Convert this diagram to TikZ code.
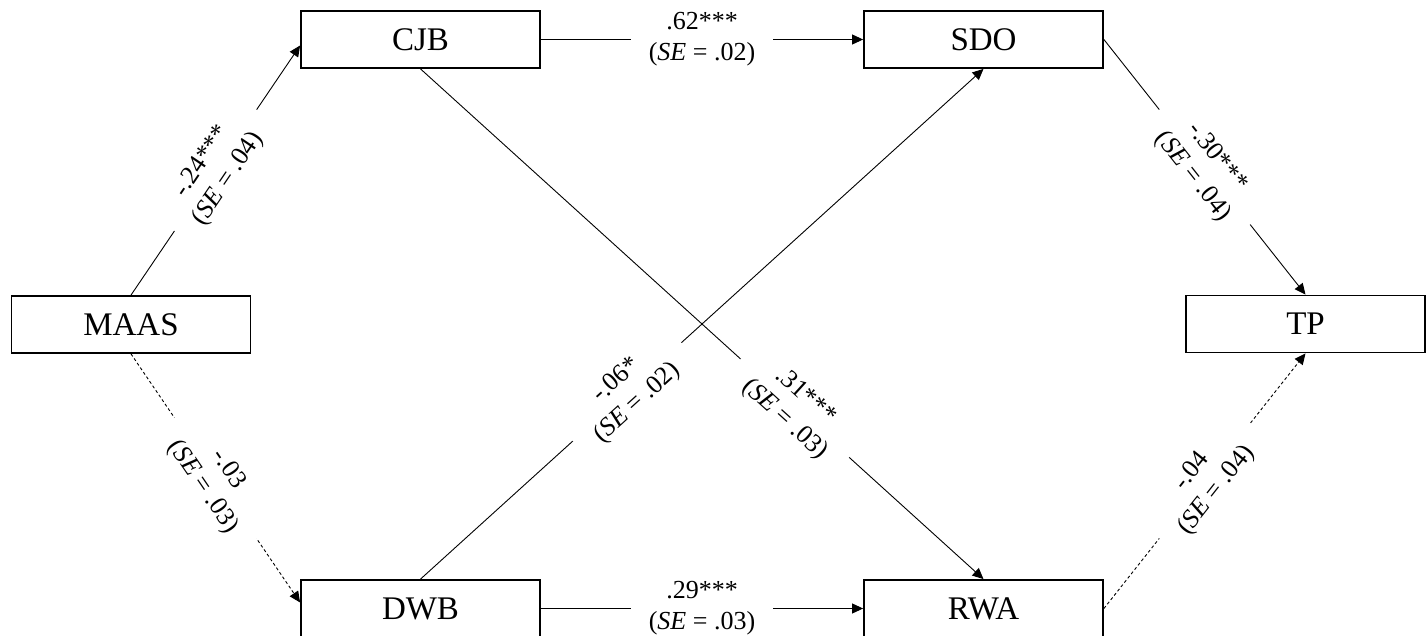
\documentclass[tikz,border=0pt]{standalone}
\usepackage{fontspec}
\setmainfont{Liberation Serif}
\usetikzlibrary{arrows.meta}
\begin{document}
\begin{tikzpicture}[x=1pt,y=-1pt,
  var/.style={draw, line width=1.8pt, minimum width=239pt, minimum height=57pt,
    inner sep=0pt, font=\fontsize{33}{36}\selectfont},
  link/.style={line width=0.9pt, -{Triangle[length=11pt,width=10pt]}},
  nsig/.style={dash pattern=on 3pt off 2.5pt},
  coef/.style={fill=white, inner xsep=20pt, inner ysep=1pt, align=center,
    font=\fontsize{26}{31}\selectfont}]
\useasboundingbox (0,0) rectangle (1427,636);

% variables
\node[var] (MAAS) at (131,324.5) {MAAS};
\node[var] (CJB)  at (420.5,39.5) {CJB};
\node[var] (SDO)  at (983.5,39.5) {SDO};
\node[var] (DWB)  at (420.5,608.5) {DWB};
\node[var] (RWA)  at (983.5,608.5) {RWA};
\node[var] (TP)   at (1305.5,324) {TP};

% paths with coefficients
\draw[link] (MAAS.north) -- node[coef, sloped] {-.24***\\(\textit{SE} = .04)} ([yshift=-6pt]CJB.west);
\draw[link, nsig] (MAAS.south) -- node[coef, sloped] {-.03\\(\textit{SE} = .03)} ([yshift=6pt]DWB.west);
\draw[link] (CJB.east) -- node[coef, inner xsep=18pt] {.62***\\(\textit{SE} = .02)} (SDO.west);
\draw[link] (DWB.east) -- node[coef, inner xsep=18pt] {.29***\\(\textit{SE} = .03)} (RWA.west);
\draw[link] (CJB.south) -- node[coef, sloped, pos=0.665] {.31***\\(\textit{SE} = .03)} (RWA.north);
\draw[link] (DWB.north) -- node[coef, sloped, pos=0.367] {-.06*\\(\textit{SE} = .02)} (SDO.south);
\draw[link] (SDO.east) -- node[coef, sloped] {-.30***\\(\textit{SE} = .04)} (TP.north);
\draw[link, nsig] (RWA.east) -- node[coef, sloped] {-.04\\(\textit{SE} = .04)} (TP.south);
\end{tikzpicture}
\end{document}
